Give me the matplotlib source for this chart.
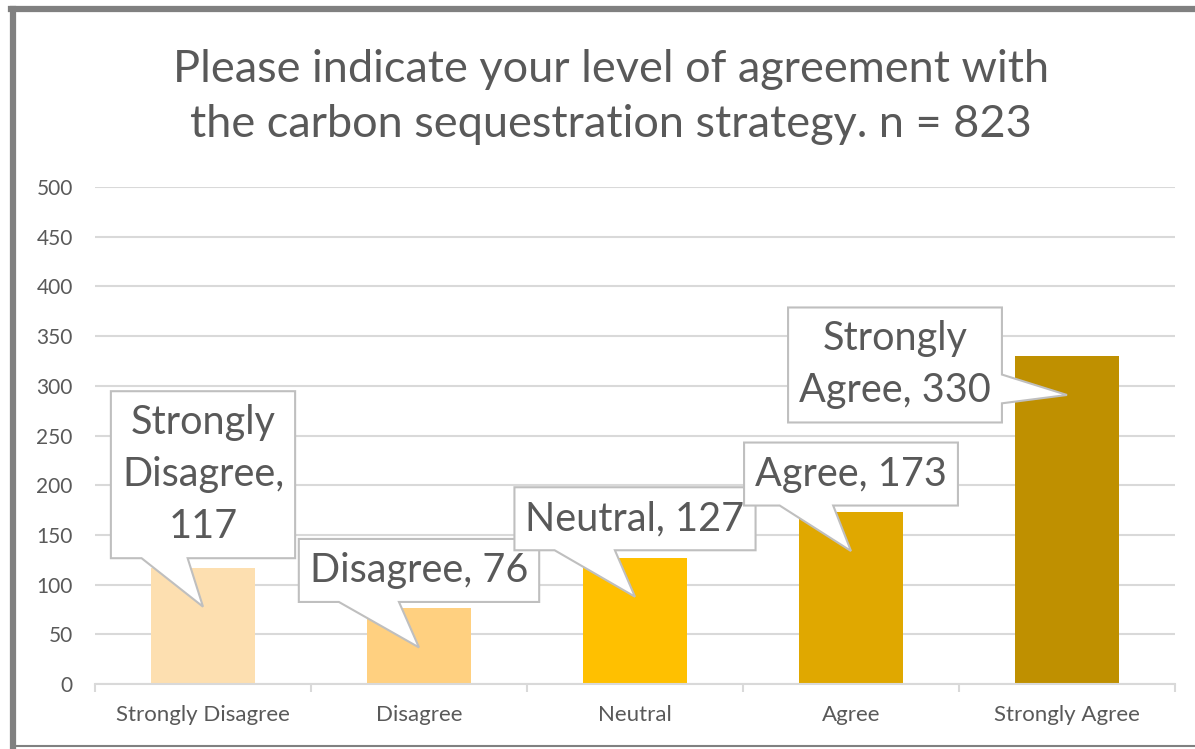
import numpy as np
import matplotlib.pyplot as plt
from matplotlib.patches import Polygon
from matplotlib.lines import Line2D
from matplotlib.transforms import IdentityTransform

# data
categories = ["Strongly Disagree", "Disagree", "Neutral", "Agree", "Strongly Agree"]
counts = [117, 76, 127, 173, 330]
callout_texts = ["Strongly\nDisagree,\n117", "Disagree, 76", "Neutral, 127",
                 "Agree, 173", "Strongly\nAgree, 330"]
bar_colors = ["#FDDFB0", "#FFD080", "#FFC000", "#E0A800", "#BF9000"]
y_ticks = [0, 50, 100, 150, 200, 250, 300, 350, 400, 450, 500]
title = "Please indicate your level of agreement with\nthe carbon sequestration strategy. n = 823"

# callout layout (pixels, y up): box centre offset from the wedge tip, wedge side
callout_offsets = [(0, 132), (0, 77), (0, 78), (0, 77), (-172, 30)]
callout_sides = ["bottom", "bottom", "bottom", "bottom", "right"]

W, H = 1195, 749
TXT = "#595959"
GRID = "#D9D9D9"
plt.rcParams['font.family'] = ['Lato', 'DejaVu Sans']

fig = plt.figure(figsize=(W / 100, H / 100), dpi=100)
ax = fig.add_axes([95 / W, (H - 684) / H, 1080 / W, 497 / H])

x = np.arange(len(categories))
ax.bar(x, counts, width=0.486, color=bar_colors, zorder=2)

ax.set_xlim(-0.5, len(categories) - 0.5)
ax.set_ylim(0, 500)
ax.set_yticks(y_ticks)
ax.set_xticks(x)
ax.set_xticklabels(categories)
ax.set_xticks(np.arange(len(categories) + 1) - 0.5, minor=True)
ax.grid(axis="y", color=GRID, lw=1.5, zorder=0)
ax.set_axisbelow(True)
for s in ["top", "right", "left"]:
    ax.spines[s].set_visible(False)
ax.spines["bottom"].set_color(GRID)
ax.spines["bottom"].set_linewidth(1.5)
ax.tick_params(axis="y", length=0, pad=16, labelsize=15, labelcolor=TXT)
ax.tick_params(axis="x", which="major", length=0, pad=15, labelsize=16, labelcolor=TXT)
ax.tick_params(axis="x", which="minor", length=6, width=1.5, color=GRID)

fig.text(611 / W, 1 - 97 / H, title, ha="center", va="center", fontsize=32.5,
         color=TXT, linespacing=1.44)

# frame around the chart
fig.add_artist(Line2D([13 / W, 13 / W], [0.0, 1 - 9 / H], color="#808080", lw=4.5,
                      transform=fig.transFigure))
fig.add_artist(Line2D([11 / W, 1.0], [1 - 9 / H, 1 - 9 / H], color="#808080", lw=4.5,
                      transform=fig.transFigure))
fig.add_artist(Line2D([13 / W, 1.0], [1 - 746 / H, 1 - 746 / H], color="#808080", lw=1.5,
                      transform=fig.transFigure))

# callouts
fig.canvas.draw()
renderer = fig.canvas.get_renderer()
padx, pady = 11, 13
for i, (lab, v) in enumerate(zip(callout_texts, counts)):
    bx, by = ax.transData.transform((x[i], v))
    tip = (bx, by - 39)
    dx, dy = callout_offsets[i]
    cx, cy = tip[0] + dx, tip[1] + dy
    t = ax.text(cx, cy, lab, transform=IdentityTransform(), ha="center", va="center",
                fontsize=28.5, color=TXT, zorder=6, linespacing=1.5)
    bb = t.get_window_extent(renderer)
    x0, x1 = cx - bb.width / 2 - padx, cx + bb.width / 2 + padx
    y0, y1 = cy - bb.height / 2 - pady, cy + bb.height / 2 + pady
    w, h = x1 - x0, y1 - y0
    if callout_sides[i] == "bottom":
        b0, b1 = x0 + w / 6, x0 + w * 5 / 12
        pts = [(x0, y0), (b0, y0), tip, (b1, y0), (x1, y0), (x1, y1), (x0, y1)]
    else:
        b0, b1 = y0 + h / 6, y0 + h * 5 / 12
        pts = [(x0, y0), (x1, y0), (x1, b0), tip, (x1, b1), (x1, y1), (x0, y1)]
    poly = Polygon(pts, closed=True, facecolor="white", edgecolor="#BFBFBF", lw=1.5,
                   transform=IdentityTransform(), zorder=5)
    ax.add_artist(poly)

fig.savefig("out.png", dpi=100)
plt.close()
